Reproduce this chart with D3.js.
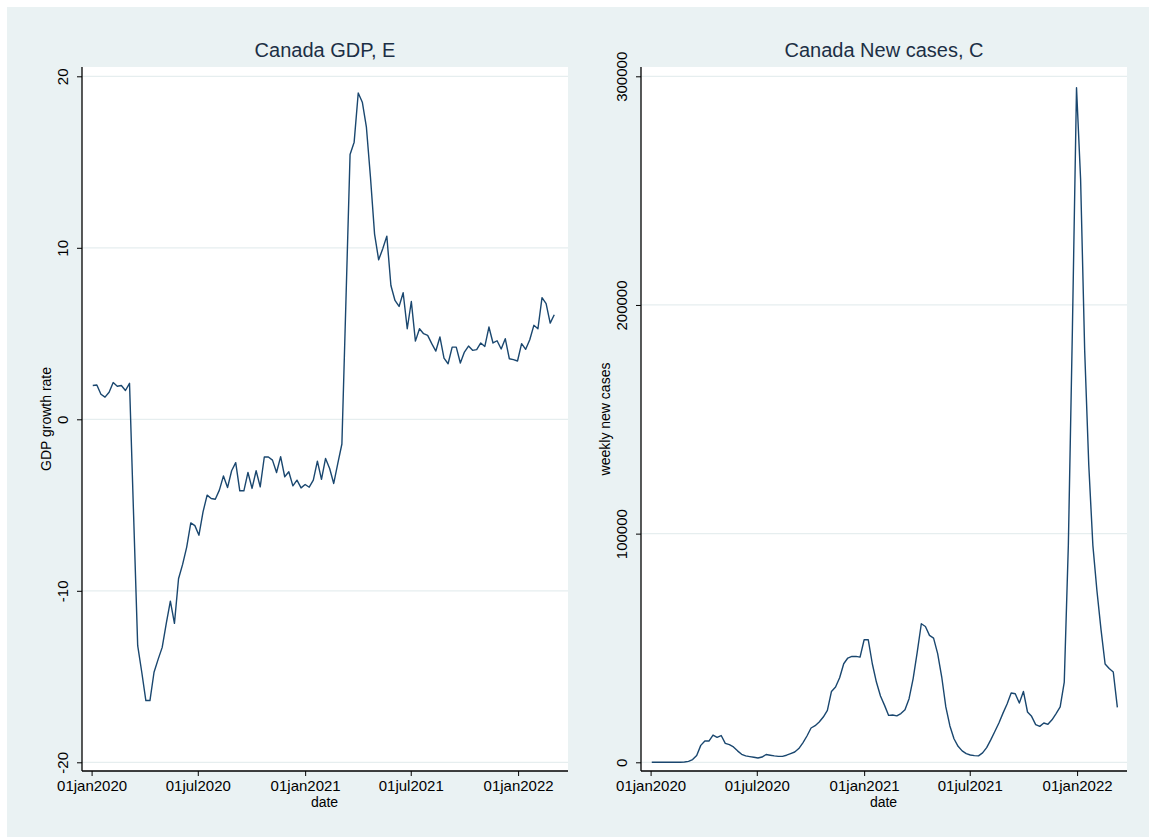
<!DOCTYPE html>
<html>
<head>
<meta charset="utf-8">
<script src="https://cdn.jsdelivr.net/npm/d3@7"></script>
<style>
  html, body { margin: 0; padding: 0; background: #ffffff; }
  svg { display: block; }
  text { font-family: "Liberation Sans", Arial, Helvetica, sans-serif; }
</style>
</head>
<body>
<svg id="chart" width="1149" height="838"></svg>
<script>
// Weekly series, first observation on 3 Jan 2020
const startDate = new Date(2020, 0, 3);

// Canada weekly GDP growth rate (%)
const gdpGrowth = [
  1.97, 2.0, 1.46, 1.29, 1.58, 2.14, 1.93, 1.97, 1.68, 2.1,
  -5.6, -13.2, -14.75, -16.4, -16.4, -14.75, -14.0, -13.3, -11.9, -10.6,
  -11.9, -9.3, -8.46, -7.45, -6.04, -6.2, -6.76, -5.4, -4.42, -4.62,
  -4.66, -4.13, -3.3, -3.98, -3.0, -2.53, -4.17, -4.17, -3.1, -4.03,
  -3.0, -3.94, -2.2, -2.2, -2.38, -3.1, -2.18, -3.35, -3.06, -3.88,
  -3.55, -4.0, -3.8, -3.96, -3.55, -2.44, -3.5, -2.28, -2.87, -3.74,
  -2.57, -1.44, 7.0, 15.44, 16.16, 19.03, 18.49, 17.03, 14.1, 10.8,
  9.3, 9.94, 10.68, 7.8, 6.93, 6.58, 7.38, 5.28, 6.87, 4.56,
  5.28, 4.99, 4.89, 4.41, 3.98, 4.8, 3.57, 3.24, 4.21, 4.21,
  3.28, 3.92, 4.27, 4.02, 4.06, 4.45, 4.25, 5.38, 4.45, 4.58,
  4.1, 4.7, 3.53, 3.48, 3.4, 4.41, 4.08, 4.64, 5.48, 5.28,
  7.09, 6.74, 5.61, 6.1
];

// Canada weekly new COVID-19 cases
const newCases = [
  0, 0, 0, 0, 0, 0, 0, 50, 150, 400,
  1200, 3000, 7400, 9300, 9300, 11900, 10900, 11700, 8300, 7700,
  6700, 5000, 3500, 2800, 2500, 2200, 1900, 2300, 3400, 3100,
  2800, 2600, 2600, 3100, 3800, 4500, 6000, 8500, 11500, 15000,
  16000, 17600, 19800, 22700, 31000, 32900, 37000, 43100, 45600, 46300,
  46300, 46000, 53600, 53600, 43100, 35100, 29000, 24900, 20500, 20700,
  20300, 21300, 23000, 27800, 36600, 48200, 60600, 59400, 55500, 54300,
  47500, 37300, 24200, 15900, 10300, 7000, 5000, 3800, 3200, 2900,
  2800, 4100, 6400, 9800, 13500, 17200, 21500, 25500, 30300, 30000,
  25900, 31000, 22000, 20100, 16500, 15700, 17200, 16600, 18600, 21300,
  24200, 35100, 95000, 190000, 295000, 255000, 180000, 130000, 95000, 75000,
  58000, 43000, 41000, 39500, 24000
];

// Axis ticks
const dateTicks = [new Date(2020, 0, 1), new Date(2020, 6, 1), new Date(2021, 0, 1),
                   new Date(2021, 6, 1), new Date(2022, 0, 1)];
const gdpTicks = [-20, -10, 0, 10, 20];
const caseTicks = [0, 100000, 200000, 300000];

const weekDate = i => d3.timeDay.offset(startDate, 7 * i);

const svg = d3.select("#chart");
const BG = "#eaf2f3";
const LINE = "#1a476f";
const fmtDate = d => d3.timeFormat("%d%b%Y")(d).toLowerCase();
// plain hyphen for negative tick labels
const fmtNum = d => String(d);

// Outer graph background
svg.append("rect").attr("x", 7).attr("y", 7).attr("width", 1142).attr("height", 830).attr("fill", BG);

function panel(cfg) {
  const g = svg.append("g").attr("transform", `translate(${cfg.left},0)`);
  const x0 = 0, x1 = 486, yTop = 67, yBot = 771;

  const x = d3.scaleTime()
    .domain([new Date(2020, 0, 1), new Date(2022, 0, 1)])
    .range([9.6, 436.1]);
  const y = d3.scaleLinear().domain(cfg.yDomain).range([762.3, 76.3]);

  // plot region
  g.append("rect").attr("x", x0).attr("y", yTop).attr("width", x1 - x0).attr("height", yBot - yTop)
    .attr("fill", "#ffffff");

  // horizontal grid
  g.append("g").selectAll("line").data(cfg.yTicks).join("line")
    .attr("x1", x0).attr("x2", x1)
    .attr("y1", d => y(d)).attr("y2", d => y(d))
    .attr("stroke", "#e6eeef").attr("stroke-width", 1.2);

  // series line
  const line = d3.line()
    .x((d, i) => x(weekDate(i)))
    .y(d => y(d));
  g.append("path").datum(cfg.values)
    .attr("d", line)
    .attr("fill", "none")
    .attr("stroke", LINE)
    .attr("stroke-width", 1.4)
    .attr("stroke-linejoin", "round");

  // y axis
  const yAxis = d3.axisLeft(y).tickValues(cfg.yTicks).tickSize(5).tickPadding(0)
    .tickFormat(fmtNum);
  const ya = g.append("g").attr("transform", `translate(${x0},0)`).call(yAxis);
  ya.select(".domain").remove();
  ya.selectAll(".tick line").attr("stroke", "#000").attr("stroke-width", 1);
  ya.selectAll(".tick text")
    .attr("x", null).attr("dy", null)
    .attr("transform", "translate(-14.5,0) rotate(-90)")
    .attr("text-anchor", "middle")
    .attr("fill", "#000")
    .style("font-size", "15px");
  g.append("line").attr("x1", x0).attr("x2", x0).attr("y1", yTop).attr("y2", yBot)
    .attr("stroke", "#000").attr("stroke-width", 1.3);

  // x axis
  const xAxis = d3.axisBottom(x).tickValues(dateTicks).tickSize(5).tickPadding(4)
    .tickFormat(fmtDate);
  const xa = g.append("g").attr("transform", `translate(0,${yBot})`).call(xAxis);
  xa.select(".domain").remove();
  xa.selectAll(".tick line").attr("stroke", "#000").attr("stroke-width", 1);
  xa.selectAll(".tick text").attr("fill", "#000").style("font-size", "15px");
  g.append("line").attr("x1", x0).attr("x2", x1).attr("y1", yBot).attr("y2", yBot)
    .attr("stroke", "#000").attr("stroke-width", 1.3);

  // titles
  g.append("text").attr("x", (x0 + x1) / 2).attr("y", 57)
    .attr("text-anchor", "middle").attr("fill", "#1c2f45")
    .style("font-size", "20px").text(cfg.title);
  g.append("text").attr("x", (x0 + x1) / 2 - 0.5).attr("y", 807)
    .attr("text-anchor", "middle").attr("fill", "#000")
    .style("font-size", "14px").text("date");
  g.append("text")
    .attr("transform", `translate(${cfg.yTitleX},419) rotate(-90)`)
    .attr("text-anchor", "middle").attr("fill", "#000")
    .style("font-size", "14px").text(cfg.yTitle);
}

panel({
  left: 82, values: gdpGrowth, yDomain: [-20, 20], yTicks: gdpTicks,
  title: "Canada GDP, E", yTitle: "GDP growth rate", yTitleX: -31
});
panel({
  left: 641, values: newCases, yDomain: [0, 300000], yTicks: caseTicks,
  title: "Canada New cases, C", yTitle: "weekly new cases", yTitleX: -31
});
</script>
</body>
</html>
